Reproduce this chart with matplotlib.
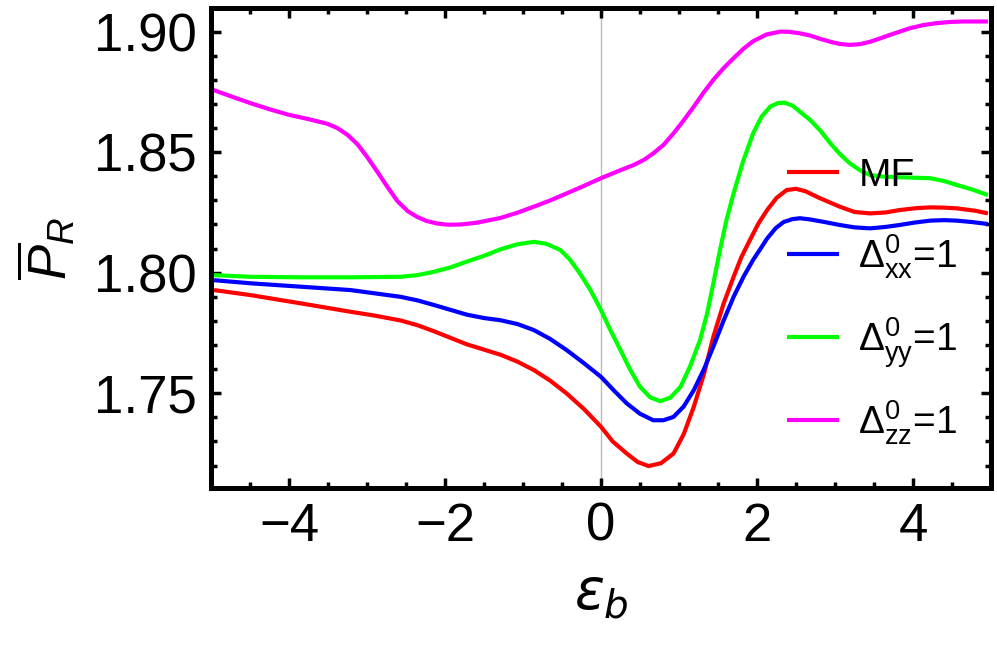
import matplotlib
matplotlib.use("Agg")
import matplotlib.pyplot as plt
from matplotlib.ticker import MultipleLocator, FormatStrFormatter

plt.rcParams['font.family'] = ['Liberation Sans', 'DejaVu Sans']
plt.rcParams['mathtext.fontset'] = 'custom'
plt.rcParams['mathtext.rm'] = 'Liberation Sans'
plt.rcParams['mathtext.it'] = 'Liberation Sans:italic'

# values
x_mf = [-4.96, -4.49, -3.85, -3.21, -2.90, -2.57, -2.35, -2.14, -1.93, -1.72, -1.50,
        -1.29, -1.07, -0.86, -0.65, -0.44, -0.22, 0.0, 0.15, 0.33, 0.47, 0.61, 0.77,
        0.93, 1.06, 1.19, 1.32, 1.44, 1.57, 1.70, 1.80, 1.91, 2.02, 2.13, 2.25, 2.38,
        2.50, 2.62, 2.80, 3.06, 3.25, 3.45, 3.65, 3.83, 4.05, 4.22, 4.40, 4.56, 4.80,
        4.96]
y_mf = [1.7928, 1.7907, 1.7873, 1.7838, 1.7822, 1.7802, 1.7782, 1.7757, 1.7730,
        1.7703, 1.7681, 1.7660, 1.7631, 1.7596, 1.7552, 1.7499, 1.7435, 1.7361,
        1.7300, 1.7250, 1.7215, 1.7198, 1.7210, 1.7250, 1.7330, 1.7444, 1.7580,
        1.7734, 1.7870, 1.7983, 1.8065, 1.8136, 1.8205, 1.8260, 1.8310, 1.8343,
        1.8348, 1.8338, 1.8310, 1.8274, 1.8252, 1.8246, 1.8250, 1.8260, 1.8268,
        1.8271, 1.8270, 1.8267, 1.8257, 1.8246]

x_xx = [-4.96, -4.49, -3.85, -3.21, -2.57, -2.35, -2.14, -1.93, -1.72, -1.50, -1.29,
        -1.07, -0.86, -0.65, -0.44, -0.22, 0.0, 0.17, 0.33, 0.50, 0.67, 0.80, 0.93,
        1.06, 1.19, 1.32, 1.44, 1.57, 1.70, 1.83, 1.95, 2.05, 2.13, 2.24, 2.34, 2.45,
        2.55, 2.68, 2.87, 3.06, 3.25, 3.45, 3.65, 3.83, 4.02, 4.22, 4.40, 4.56, 4.76,
        4.96]
y_xx = [1.7969, 1.7956, 1.7942, 1.7928, 1.7900, 1.7885, 1.7866, 1.7846, 1.7826,
        1.7812, 1.7803, 1.7787, 1.7762, 1.7725, 1.7679, 1.7625, 1.7568, 1.7510,
        1.7458, 1.7415, 1.7388, 1.7388, 1.7402, 1.7445, 1.7513, 1.7600, 1.7693,
        1.7800, 1.7900, 1.7985, 1.8053, 1.8102, 1.8142, 1.8185, 1.8210, 1.8222,
        1.8226, 1.8221, 1.8210, 1.8198, 1.8188, 1.8184, 1.8190, 1.8198, 1.8208,
        1.8216, 1.8218, 1.8216, 1.8210, 1.8202]

x_yy = [-4.96, -4.49, -3.85, -3.21, -2.57, -2.35, -2.14, -1.93, -1.72, -1.50, -1.29,
        -1.07, -0.86, -0.70, -0.52, -0.40, -0.27, -0.13, 0.0, 0.12, 0.25, 0.37, 0.50,
        0.63, 0.76, 0.89, 1.02, 1.14, 1.27, 1.36, 1.44, 1.53, 1.61, 1.70, 1.82, 1.95,
        2.06, 2.17, 2.27, 2.36, 2.46, 2.55, 2.68, 2.81, 2.94, 3.06, 3.19, 3.32, 3.45,
        3.64, 3.83, 4.02, 4.22, 4.40, 4.56, 4.76, 4.96]
y_yy = [1.7990, 1.7983, 1.7981, 1.7981, 1.7983, 1.7990, 1.8004, 1.8022, 1.8046,
        1.8070, 1.8097, 1.8118, 1.8128, 1.8120, 1.8094, 1.8055, 1.7997, 1.7925,
        1.7845, 1.7762, 1.7679, 1.7600, 1.7527, 1.7483, 1.7467, 1.7482, 1.7527,
        1.7610, 1.7721, 1.7830, 1.7956, 1.8101, 1.8220, 1.8329, 1.8460, 1.8578,
        1.8648, 1.8689, 1.8704, 1.8705, 1.8692, 1.8668, 1.8634, 1.8590, 1.8537,
        1.8493, 1.8454, 1.8425, 1.8405, 1.8398, 1.8396, 1.8394, 1.8392, 1.8380,
        1.8364, 1.8345, 1.8322]

x_zz = [-4.97, -4.73, -4.49, -4.25, -4.0, -3.75, -3.51, -3.38, -3.25, -3.12, -3.0,
        -2.87, -2.74, -2.61, -2.48, -2.36, -2.24, -2.10, -1.95, -1.80, -1.60, -1.29,
        -1.07, -0.86, -0.65, -0.44, -0.22, 0.0, 0.21, 0.42, 0.55, 0.67, 0.80, 0.93,
        1.06, 1.19, 1.31, 1.44, 1.57, 1.70, 1.83, 1.95, 2.12, 2.30, 2.42, 2.55, 2.68,
        2.81, 2.94, 3.06, 3.19, 3.32, 3.45, 3.58, 3.70, 3.83, 3.96, 4.13, 4.30, 4.47,
        4.64, 4.96]
y_zz = [1.8758, 1.8730, 1.8703, 1.8678, 1.8655, 1.8637, 1.8618, 1.8600, 1.8572,
        1.8532, 1.8481, 1.8420, 1.8357, 1.8297, 1.8256, 1.8232, 1.8215, 1.8204,
        1.8199, 1.8200, 1.8207, 1.8227, 1.8249, 1.8274, 1.8300, 1.8329, 1.8360,
        1.8392, 1.8420, 1.8447, 1.8468, 1.8495, 1.8530, 1.8578, 1.8632, 1.8689,
        1.8745, 1.8800, 1.8848, 1.8890, 1.8930, 1.8960, 1.8988, 1.9000, 1.8999,
        1.8993, 1.8984, 1.8970, 1.8958, 1.8949, 1.8945, 1.8948, 1.8958, 1.8972,
        1.8986, 1.9000, 1.9014, 1.9027, 1.9035, 1.9040, 1.9042, 1.9042]

labels = ['MF', r'$\Delta^0_{\mathrm{xx}}$=1', r'$\Delta^0_{\mathrm{yy}}$=1',
          r'$\Delta^0_{\mathrm{zz}}$=1']
colors = ['#ff0000', '#0000ff', '#00ff00', '#ff00ff']

fig = plt.figure(figsize=(9.97, 6.45), dpi=100)
ax = fig.add_axes([0.2116, 0.2434, 0.7824, 0.7442])

ax.axvline(0, color='#bbbbbb', lw=1.0, zorder=0)
for xs, ys, c in zip([x_mf, x_xx, x_yy, x_zz], [y_mf, y_xx, y_yy, y_zz], colors):
    ax.plot(xs, ys, color=c, lw=3, solid_joinstyle='round', solid_capstyle='butt')

ax.set_xlim(-5, 5)
ax.set_ylim(1.7107, 1.9098)
ax.xaxis.set_major_locator(MultipleLocator(2))
ax.xaxis.set_minor_locator(MultipleLocator(0.5))
ax.yaxis.set_major_locator(MultipleLocator(0.05))
ax.yaxis.set_minor_locator(MultipleLocator(0.01))
ax.yaxis.set_major_formatter(FormatStrFormatter('%.2f'))

for s in ax.spines.values():
    s.set_linewidth(3.6)
ax.tick_params(which='both', direction='in', top=True, right=True, width=2.5,
               labelsize=38, pad=10)
ax.tick_params(which='major', length=7)
ax.tick_params(which='minor', length=4)

ax.set_xlabel(r'$\epsilon_b$', fontsize=40, math_fontfamily='dejavusans', labelpad=12)
ax.set_ylabel(r'$\overline{P}_R$', fontsize=38, labelpad=12)

# legend, Mathematica style: short line plus text, evenly spaced rows
leg_rows = [0.658, 0.4875, 0.3146, 0.1417]
for yr, c, lab in zip(leg_rows, colors, labels):
    ax.plot([0.738, 0.805], [yr, yr], transform=ax.transAxes, color=c, lw=3,
            solid_capstyle='butt')
    ax.text(0.830, yr - 0.029, lab, transform=ax.transAxes, fontsize=28,
            va='baseline', ha='left')

fig.savefig('out.png', dpi=100)
